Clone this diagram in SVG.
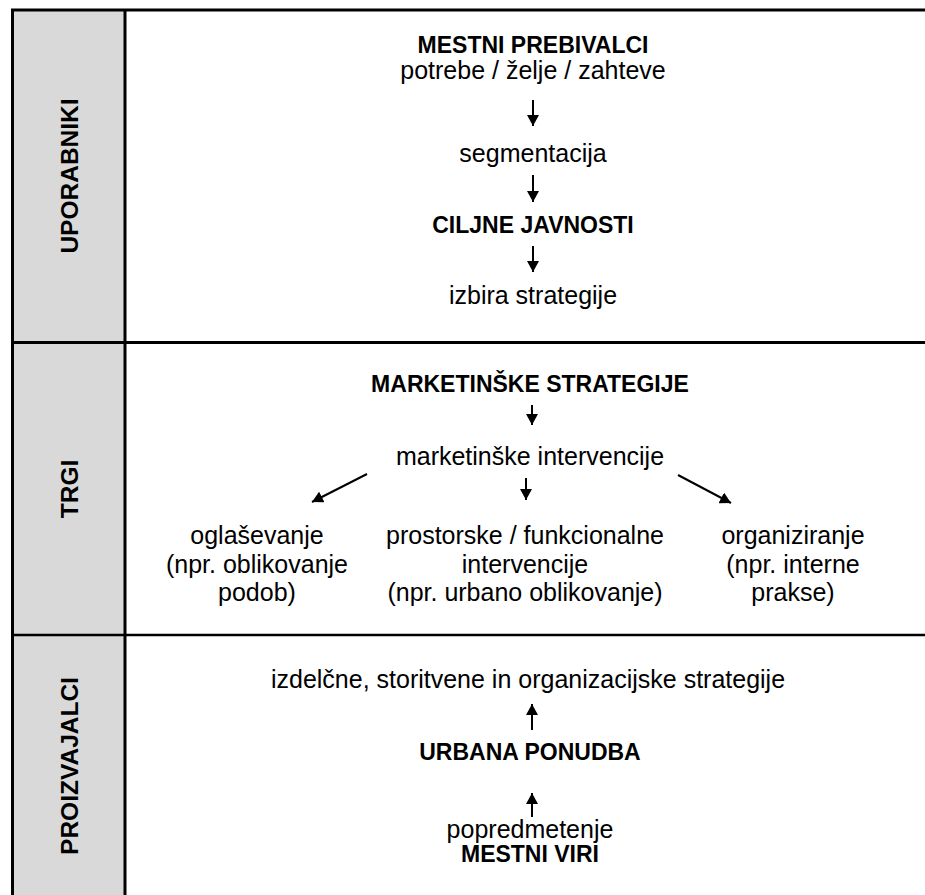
<svg xmlns="http://www.w3.org/2000/svg" width="925" height="895" viewBox="0 0 925 895">
<style>
text{font-family:"Liberation Sans",Arial,sans-serif;font-size:25px;fill:#000;text-anchor:middle}
.b{font-weight:bold;font-size:23px}
.side{font-weight:bold;font-size:24.5px}
.frame{stroke:#000;fill:none}
.conn line{stroke:#000;stroke-width:2}
</style>
<defs>
<marker id="ah" viewBox="0 0 11 12" refX="11" refY="6" markerWidth="11" markerHeight="12" orient="auto" markerUnits="userSpaceOnUse">
<path d="M0,0 L11,6 L0,12 z" fill="#000"/>
</marker>
</defs>
<rect x="0" y="0" width="925" height="895" fill="#fff"/>
<g id="frame">
<rect x="12.5" y="10" width="112.5" height="885" fill="#d9d9d9"/>
<line class="frame" x1="11" y1="10" x2="925" y2="10" stroke-width="3"/>
<line class="frame" x1="12.5" y1="10" x2="12.5" y2="895" stroke-width="3"/>
<line class="frame" x1="125" y1="10" x2="125" y2="895" stroke-width="3"/>
<line class="frame" x1="11" y1="342.5" x2="925" y2="342.5" stroke-width="3"/>
<line class="frame" x1="11" y1="635" x2="925" y2="635" stroke-width="2.5"/>
</g>
<g id="lbl-uporabniki"><text class="side" transform="translate(78,176) rotate(-90)">UPORABNIKI</text></g>
<g id="lbl-trgi"><text class="side" transform="translate(78,489) rotate(-90)">TRGI</text></g>
<g id="lbl-proizvajalci"><text class="side" transform="translate(78,766) rotate(-90)">PROIZVAJALCI</text></g>
<g id="n-mestni-prebivalci"><text class="b" x="533" y="53">MESTNI PREBIVALCI</text><text x="533" y="79">potrebe / želje / zahteve</text></g>
<g id="n-segmentacija"><text x="533" y="162">segmentacija</text></g>
<g id="n-ciljne"><text class="b" x="533" y="233">CILJNE JAVNOSTI</text></g>
<g id="n-izbira"><text x="533" y="304">izbira strategije</text></g>
<g id="n-mark-strat"><text class="b" x="530" y="392">MARKETINŠKE STRATEGIJE</text></g>
<g id="n-mark-int"><text x="530" y="465">marketinške intervencije</text></g>
<g id="n-oglasevanje"><text x="257" y="544">oglaševanje</text><text x="257" y="573">(npr. oblikovanje</text><text x="257" y="601">podob)</text></g>
<g id="n-prostorske"><text x="525" y="544">prostorske / funkcionalne</text><text x="525" y="573">intervencije</text><text x="525" y="601">(npr. urbano oblikovanje)</text></g>
<g id="n-organiziranje"><text x="793" y="544">organiziranje</text><text x="793" y="573">(npr. interne</text><text x="793" y="601">prakse)</text></g>
<g id="n-izdelcne"><text x="528" y="688">izdelčne, storitvene in organizacijske strategije</text></g>
<g id="n-urbana"><text class="b" x="530" y="760">URBANA PONUDBA</text></g>
<g id="n-viri"><text x="530" y="838">popredmetenje</text><text class="b" x="530" y="862">MESTNI VIRI</text></g>
<g id="connectors" class="conn">
<line x1="533" y1="100" x2="533" y2="126" marker-end="url(#ah)"/>
<line x1="533" y1="175" x2="533" y2="202" marker-end="url(#ah)"/>
<line x1="533" y1="246" x2="533" y2="272" marker-end="url(#ah)"/>
<line x1="532" y1="405" x2="532" y2="425" marker-end="url(#ah)"/>
<line x1="367" y1="474" x2="312" y2="502" marker-end="url(#ah)"/>
<line x1="526" y1="478" x2="526" y2="500" marker-end="url(#ah)"/>
<line x1="678" y1="475" x2="731" y2="503" marker-end="url(#ah)"/>
<line x1="532" y1="730" x2="532" y2="704" marker-end="url(#ah)"/>
<line x1="532" y1="817" x2="532" y2="793" marker-end="url(#ah)"/>
</g>
</svg>
